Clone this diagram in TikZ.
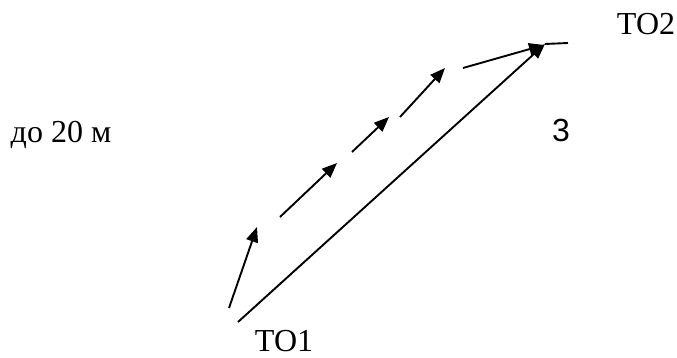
\documentclass[tikz,border=0pt]{standalone}
\usepackage{fontspec}
\setmainfont{Liberation Serif}
\newfontfamily\labelsans{Liberation Sans}
\usetikzlibrary{arrows.meta}

\begin{document}
\begin{tikzpicture}[x=0.5pt,y=-0.5pt,
    path/.style={line width=0.95pt,-{Triangle[length=7.5pt,width=6pt]}},
    lbl/.style={inner sep=0pt,font=\fontsize{16}{18}\selectfont}]

        \useasboundingbox (0,0) rectangle (677,358);

        % End points
        \coordinate (s) at (238,322);
        \coordinate (f) at (545,44);
        \coordinate (e) at (568,43);

        % Direct route
        \draw[path] (s) -- (f);
        \draw[line width=0.95pt] (f) -- (e);

        % Stepwise route
        \coordinate (a0) at (229,308);  \coordinate (b0) at (257,227);
        \coordinate (a1) at (280,217);  \coordinate (b1) at (337,163);
        \coordinate (a2) at (352,152);  \coordinate (b2) at (389,117);
        \coordinate (a3) at (400,117);  \coordinate (b3) at (445,68);
        \coordinate (a4) at (463,68);   \coordinate (b4) at (544,45);
        \foreach \i in {0,...,4}
        {
            \draw[path] (a\i) -- (b\i);
        }

        % Labels
        \node[lbl] (dist) at (61,135) {до 20 м};
        \node[lbl] (to1) at (284,341) {ТО1};
        \node[lbl] (to2) at (646,24) {ТО2};
        \node[lbl,font=\labelsans\fontsize{16}{18}\selectfont] (three) at (561,130) {3};

    \end{tikzpicture}
\end{document}
